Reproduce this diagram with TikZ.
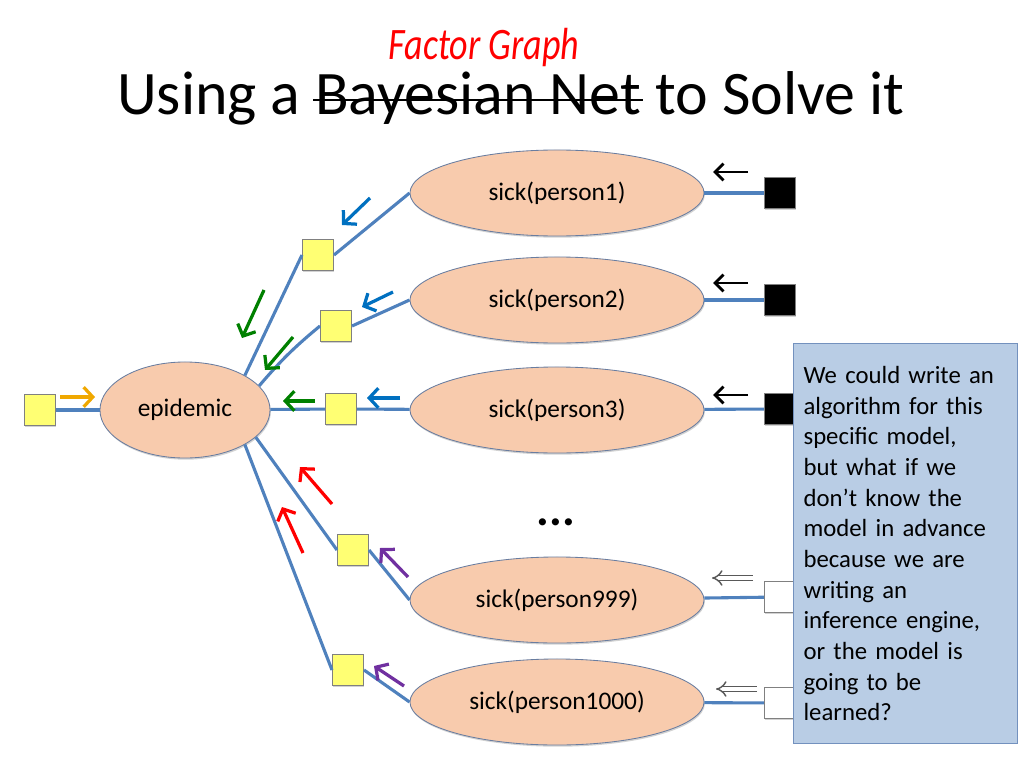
\documentclass[tikz,border=0pt]{standalone}
\usepackage{fontspec}
\setmainfont{Carlito}
\usetikzlibrary{arrows.meta,shapes.geometric,shadows,positioning}

\definecolor{graphVarFill}{RGB}{248,203,173}
\definecolor{graphVarBorder}{RGB}{105,125,160}
\definecolor{graphFactor}{RGB}{255,255,115}
\definecolor{graphEdge}{RGB}{79,129,189}
\definecolor{msgOrange}{RGB}{240,168,0}
\definecolor{msgBlue}{RGB}{0,112,192}
\definecolor{msgGreen}{RGB}{0,128,0}
\definecolor{msgRed}{RGB}{255,0,0}
\definecolor{msgPurple}{RGB}{112,48,160}
\definecolor{noteFill}{RGB}{185,205,229}
\definecolor{noteBorder}{RGB}{115,145,190}

\begin{document}
\begin{tikzpicture}[x=.025cm,y=-.025cm,
      headline/.style={font=\fontsize{44}{50}\selectfont, inner sep=0pt},
      varnode/.style={ellipse, draw=graphVarBorder, fill=graphVarFill,
        line width=.6pt, inner sep=0pt, font=\fontsize{18}{22}\selectfont,
        drop shadow={shadow xshift=.6pt, shadow yshift=-1.2pt, opacity=.35}},
      person/.style={varnode, minimum width=7.35cm, minimum height=2.15cm},
      factor/.style={rectangle, draw=gray, fill=graphFactor, line width=.6pt,
        minimum size=.78cm, inner sep=0pt,
        drop shadow={shadow xshift=.6pt, shadow yshift=-1.2pt, opacity=.35}},
      evidence/.style={factor, fill=black},
      unseen/.style={factor, fill=white},
      link/.style={draw=graphEdge, line width=2.2pt},
      message/.style={line width=2.3pt,
        -{Straight Barb[length=6.5pt, width=14pt]}},
      observed/.style={black, line width=2.1pt,
        -{Straight Barb[length=6pt, width=12pt]}},
      hollow/.style={draw=black!65, double=white, double distance=2.8pt,
        line width=1pt, -{Implies}},
      callout/.style={draw=noteBorder, fill=noteFill, line width=.8pt,
        font=\fontsize{17.6}{21.8}\selectfont, align=left,
        text width=5.1cm, minimum width=5.43cm, minimum height=10cm,
        inner xsep=.25cm}]
      \useasboundingbox (0,0) rectangle (1024,768);
      \fill[white] (0,0) rectangle (1024,768);

      % title, with the struck words
      \node[headline, anchor=base] (tBayes) at (478,115) {Bayesian Net};
      \node[headline, base left=10pt of tBayes] (tUsing) {Using a};
      \node[headline, base right=10pt of tBayes] (tSolve) {to Solve it};
      \draw[black, line width=2pt]
        ([xshift=-1pt,yshift=10.7pt]tBayes.base west) --
        ([xshift=1pt,yshift=10.7pt]tBayes.base east);
      \node[font=\fontsize{32}{36}\selectfont\itshape, text=red, anchor=base]
        (tFactor) at (484,60) {\scalebox{.8}[1]{Factor Graph}};

      % variables
      \node[varnode, minimum width=4.25cm, minimum height=2.4cm]
        (epidemic) at (185,410) {epidemic};
      \node[person] (sick1) at (557,193) {sick(person1)};
      \node[person] (sick2) at (557,300) {sick(person2)};
      \node[person] (sick3) at (557,410) {sick(person3)};
      \node[person] (sick999) at (557,600) {sick(person999)};
      \node[person] (sick1000) at (557,702) {sick(person1000)};
      \node[font=\fontsize{34}{38}\selectfont\bfseries, anchor=base]
        (dots) at (556,525) {...};

      % factors
      \node[factor] (prior) at (40,410) {};
      \node[factor] (f1) at (318,255) {};
      \node[factor] (f2) at (336,326) {};
      \node[factor] (f3) at (341,409) {};
      \node[factor] (f999) at (353,550) {};
      \node[factor] (f1000) at (348,670) {};
      \node[evidence] (e1) at (780,193) {};
      \node[evidence] (e2) at (780,300) {};
      \node[evidence] (e3) at (780,409) {};
      \node[unseen] (u999) at (780,597) {};
      \node[unseen] (u1000) at (780,703) {};

      % edges
      \path[link] (prior) -- (epidemic);
      \path[link] (epidemic.30) -- (f1.west);
      \path[link] (f1.east) -- (sick1.west);
      \path[link] (epidemic.18) to[bend left=5] (f2.west);
      \path[link] (f2.east) -- (sick2.west);
      \path[link] (epidemic) -- (f3) -- (sick3);
      \path[link] (epidemic.-21) -- (f999.west);
      \path[link] (f999.east) -- (sick999.west);
      \path[link] (epidemic.-30) -- (f1000.west);
      \path[link] (f1000.east) -- (sick1000.west);
      \path[link] (sick1) -- (e1);
      \path[link] (sick2) -- (e2);
      \path[link] (sick3) -- (e3);
      \path[link] (sick999) -- (u999);
      \path[link] (sick1000) -- (u1000);

      % messages
      \foreach \c/\xa/\ya/\xb/\yb in {msgOrange/60/397/95/397,
          msgBlue/370/198/342/225, msgBlue/393/292/362/307,
          msgBlue/400/398/367/398,
          msgGreen/264/290/242/338, msgGreen/293/337/265/370,
          msgGreen/315/401/283/401,
          msgRed/332/504/300/467, msgRed/303/553/282/507,
          msgPurple/408/577/380/548, msgPurple/404/686/374/666}{
        \draw[message, \c] (\xa,\ya) -- (\xb,\yb);}
      \foreach \y in {172,283,395}{
        \draw[observed] (748,\y) -- (713,\y);}
      \draw[hollow] (753,578) -- (712,578);
      \draw[hollow] (757,689) -- (716,689);

      \node[callout, anchor=north west] (note) at (793,343) {We could write an\\
        algorithm for this\\ specific model,\\ but what if we\\
        don’t know the\\ model in advance\\ because we are\\ writing an\\
        inference engine,\\ or the model is\\ going to be\\ learned?};
    \end{tikzpicture}
\end{document}
